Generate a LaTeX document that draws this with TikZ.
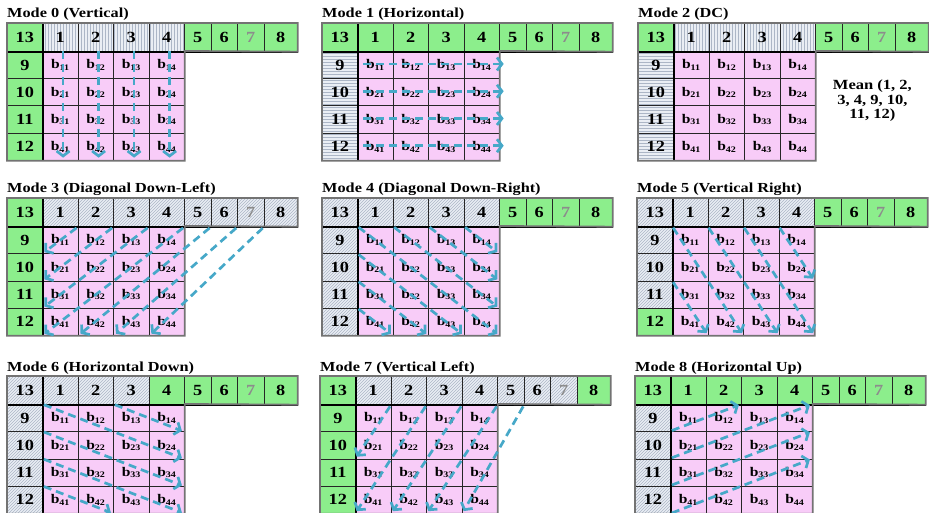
\documentclass[tikz,border=0pt]{standalone}
\usepackage{fontspec}
\setmainfont{Liberation Serif}[FakeStretch=1.18]
\usetikzlibrary{arrows.meta,patterns,positioning}

\definecolor{cellgreen}{RGB}{140,238,140}
\definecolor{cellpink}{RGB}{248,204,248}
\definecolor{hatchbg}{RGB}{234,238,244}
\definecolor{hatchline}{RGB}{172,182,198}
\definecolor{raycolor}{RGB}{70,168,200}

\newcommand\bcell[1]{b\raisebox{-1.5pt}{\fontsize{8.5}{9}\selectfont#1}}

\newcommand\modepanel[5]{%
  \begin{scope}[shift={#2}]
    \node[modetitle] (#1-title) at (0,-5) {#3};
    \foreach \n/\fillst [count=\k from 0] in {#4} {
      \pgfmathsetmacro\cellx{{0,35,70.5,106,141.5,177,203.5,230,256.5}[\k]}
      \pgfmathsetmacro\cellw{{35,35.5,35.5,35.5,35.5,26.5,26.5,26.5,33.5}[\k]}
      \node[cell, \fillst, minimum width=\cellw pt, minimum height=28pt]
        (#1-t\n) at (\cellx,0) {\ifnum\n=7 \color{black!45}\fi\n};
    }
    \foreach \n/\fillst [count=\k from 0] in {#5}
      \node[cell, \fillst, minimum width=35pt, minimum height=27.25pt]
        (#1-l\n) at (0,{28+27.25*\k}) {\n};
    \foreach \i in {1,...,4}
      \foreach \j in {1,...,4}
        \node[cell, pinkcell] (#1-b\i\j)
          at ({35+35.5*(\j-1)},{28+27.25*(\i-1)}) {\bcell{\i\j}};
    \draw[sepline] (#1-t13.north east) -- (#1-l12.south east);
    \draw[sepline] (#1-t13.south west) -- (#1-t8.south east);
    \draw[frame] (#1-t13.north west) -- (#1-t8.north east) -- (#1-t8.south east)
      -- (#1-b14.north east) -- (#1-b44.south east) -- (#1-l12.south west) -- cycle;
  \end{scope}}

\begin{document}
\begin{tikzpicture}[
  x=1pt, y=-1pt,
  modetitle/.style={anchor=base west, inner sep=0pt,
                    font=\fontsize{13.8}{14}\selectfont\bfseries},
  cell/.style={draw=black!85, line width=.7pt, inner sep=0pt, anchor=north west,
               font=\fontsize{15.5}{16}\selectfont\bfseries},
  pinkcell/.style={fill=cellpink, minimum width=35.5pt, minimum height=27.25pt,
                   font=\fontsize{13.2}{14}\selectfont\bfseries},
  cg/.style={fill=cellgreen},
  cv/.style={preaction={fill=hatchbg}, pattern=vertical lines, pattern color=hatchline},
  ch/.style={preaction={fill=hatchbg}, pattern=horizontal lines, pattern color=hatchline},
  cd/.style={preaction={fill=hatchbg}, pattern=north east lines, pattern color=hatchline},
  sepline/.style={line width=2.2pt, black},
  frame/.style={line width=1.8pt, draw=black!55, line join=miter},
  ray/.style={draw=raycolor, line width=2.7pt, dash pattern=on 8pt off 5pt,
              -{Straight Barb[length=5pt,width=13pt]}, shorten >=3pt, shorten <=2pt},
  meantext/.style={align=center, inner sep=0pt,
                   font=\fontsize{14}{14.5}\selectfont\bfseries}
]
\useasboundingbox (0,0) rectangle (929,513);

\modepanel{m0}{(7,23)}{Mode 0 (Vertical)}
  {13/cg,1/cv,2/cv,3/cv,4/cv,5/cg,6/cg,7/cg,8/cg}{9/cg,10/cg,11/cg,12/cg}
\modepanel{m1}{(322,23)}{Mode 1 (Horizontal)}
  {13/cg,1/cg,2/cg,3/cg,4/cg,5/cg,6/cg,7/cg,8/cg}{9/ch,10/ch,11/ch,12/ch}
\modepanel{m2}{(638,23)}{Mode 2 (DC)}
  {13/cg,1/cv,2/cv,3/cv,4/cv,5/cg,6/cg,7/cg,8/cg}{9/ch,10/ch,11/ch,12/ch}
\modepanel{m3}{(7,198)}{Mode 3 (Diagonal Down-Left)}
  {13/cg,1/cd,2/cd,3/cd,4/cd,5/cd,6/cd,7/cd,8/cd}{9/cg,10/cg,11/cg,12/cg}
\modepanel{m4}{(322,198)}{Mode 4 (Diagonal Down-Right)}
  {13/cd,1/cd,2/cd,3/cd,4/cd,5/cg,6/cg,7/cg,8/cg}{9/cd,10/cd,11/cd,12/cd}
\modepanel{m5}{(637,198)}{Mode 5 (Vertical Right)}
  {13/cd,1/cd,2/cd,3/cd,4/cd,5/cg,6/cg,7/cg,8/cg}{9/cd,10/cd,11/cd,12/cg}
\modepanel{m6}{(7,376)}{Mode 6 (Horizontal Down)}
  {13/cd,1/cd,2/cd,3/cd,4/cg,5/cg,6/cg,7/cg,8/cg}{9/cd,10/cd,11/cd,12/cd}
\modepanel{m7}{(320,376)}{Mode 7 (Vertical Left)}
  {13/cg,1/cd,2/cd,3/cd,4/cd,5/cd,6/cd,7/cd,8/cg}{9/cg,10/cg,11/cg,12/cg}
\modepanel{m8}{(635,376)}{Mode 8 (Horizontal Up)}
  {13/cg,1/cg,2/cg,3/cg,4/cg,5/cg,6/cg,7/cg,8/cg}{9/cd,10/cd,11/cd,12/cd}

\node[meantext, right=17pt of m2-b24.south east, yshift=5.5pt] (m2-mean)
  {Mean (1, 2,\\3, 4, 9, 10,\\11, 12)};

\foreach \j in {1,...,4}
  \draw[ray, shorten <=0pt] ([xshift=3pt]m0-b1\j.north) -- ([xshift=3pt]m0-b4\j.south);
\foreach \i in {1,...,4}
  \draw[ray, shorten >=0pt] ([xshift=4pt,yshift=1pt]m1-b\i1.west)
    -- ([xshift=4pt,yshift=1pt]m1-b\i4.east);

\draw[ray] (m3-t1.south east) -- (m3-b11.south west);
\draw[ray] (m3-t2.south east) -- (m3-b21.south west);
\draw[ray] (m3-t3.south east) -- (m3-b31.south west);
\draw[ray] (m3-t4.south east) -- (m3-b41.south west);
\draw[ray] (m3-t5.south east) -- (m3-b41.south east);
\draw[ray] (m3-t6.south east) -- (m3-b42.south east);
\draw[ray] (m3-t7.south east) -- (m3-b43.south east);

\draw[ray] (m4-b11.north west) -- (m4-b44.south east);
\draw[ray] (m4-b12.north west) -- (m4-b34.south east);
\draw[ray] (m4-b13.north west) -- (m4-b24.south east);
\draw[ray] (m4-b14.north west) -- (m4-b14.south east);
\draw[ray] (m4-b21.north west) -- (m4-b43.south east);
\draw[ray] (m4-b31.north west) -- (m4-b42.south east);
\draw[ray] (m4-b41.north west) -- (m4-b41.south east);

\draw[ray] (m5-b11.north west) -- (m5-b42.south east);
\draw[ray] (m5-b12.north west) -- (m5-b43.south east);
\draw[ray] (m5-b13.north west) -- (m5-b44.south east);
\draw[ray] (m5-b14.north west) -- (m5-b24.south east);
\draw[ray] (m5-b31.north west) -- (m5-b41.south east);

\draw[ray] (m6-b11.north west) -- (m6-b24.south east);
\draw[ray] (m6-b13.north west) -- (m6-b14.south east);
\draw[ray] (m6-b21.north west) -- (m6-b34.south east);
\draw[ray] (m6-b31.north west) -- (m6-b44.south east);
\draw[ray] (m6-b41.north west) -- (m6-b42.south east);

\draw[ray] (m7-t1.south east) -- (m7-b21.south west);
\draw[ray] (m7-t2.south east) -- (m7-b41.south west);
\draw[ray] (m7-t3.south east) -- (m7-b41.south east);
\draw[ray] (m7-t4.south east) -- (m7-b42.south east);
\draw[ray] (m7-t5.south east) -- (m7-b43.south east);

\draw[ray] (m8-b21.north west) -- (m8-b12.north east);
\draw[ray] (m8-b31.north west) -- (m8-b14.north east);
\draw[ray] (m8-b41.north west) -- (m8-b24.north east);
\draw[ray] (m8-b41.south west) -- (m8-b34.north east);
\end{tikzpicture}
\end{document}
